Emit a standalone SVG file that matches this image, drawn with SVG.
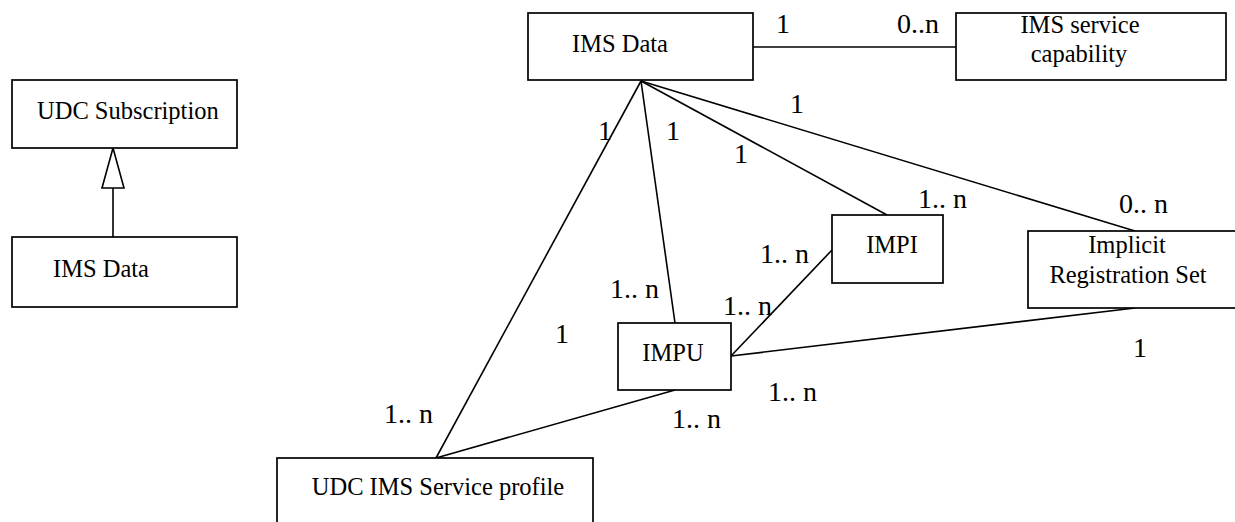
<svg xmlns="http://www.w3.org/2000/svg" width="1235" height="522" viewBox="0 0 1235 522">
<defs>
<style>
.box{fill:#fff;stroke:#000;stroke-width:1.7}
.ln{fill:none;stroke:#000;stroke-width:1.6}
.t{font-family:'Liberation Serif','Times New Roman','DejaVu Serif',serif;font-size:24.5px;fill:#000}
.m{font-family:'Liberation Serif','Times New Roman','DejaVu Serif',serif;font-size:28px;fill:#000}
</style>
</defs>
<rect width="1235" height="522" fill="#fff"/>
<g id="connectors">
<line class="ln" x1="113" y1="237" x2="113" y2="188"/>
<path d="M113,148 L124,188 L102,188 Z" fill="#fff" stroke="#000" stroke-width="1.6"/>
<line class="ln" x1="753" y1="47" x2="956" y2="47"/>
<line class="ln" x1="641" y1="81" x2="436" y2="458"/>
<line class="ln" x1="641" y1="81" x2="675" y2="323"/>
<line class="ln" x1="641" y1="81" x2="887" y2="215"/>
<line class="ln" x1="641" y1="81" x2="1135" y2="231"/>
<line class="ln" x1="731" y1="356" x2="832" y2="250"/>
<line class="ln" x1="731" y1="356" x2="1135" y2="308"/>
<line class="ln" x1="675" y1="390" x2="436" y2="458"/>
</g>
<g id="udc-subscription">
<rect class="box" x="12" y="80" width="225" height="68"/>
<text class="t" x="37" y="119" font-family="Liberation Serif, serif">UDC Subscription</text>
</g>
<g id="ims-data-left">
<rect class="box" x="12" y="237" width="225" height="70"/>
<text class="t" x="53" y="277">IMS Data</text>
</g>
<g id="ims-data">
<rect class="box" x="528" y="13" width="225" height="67"/>
<text class="t" x="572" y="52">IMS Data</text>
</g>
<g id="ims-service-capability">
<rect class="box" x="956" y="13" width="270" height="67"/>
<text class="t" x="1080" y="33" text-anchor="middle">IMS service</text>
<text class="t" x="1079" y="62" text-anchor="middle">capability</text>
</g>
<g id="impi">
<rect class="box" x="832" y="215" width="111" height="68"/>
<text class="t" x="892" y="253" text-anchor="middle">IMPI</text>
</g>
<g id="implicit-registration-set">
<rect class="box" x="1028" y="231" width="215" height="77"/>
<text class="t" x="1127" y="253" text-anchor="middle">Implicit</text>
<text class="t" x="1128" y="283" text-anchor="middle">Registration Set</text>
</g>
<g id="impu">
<rect class="box" x="618" y="323" width="113" height="67"/>
<text class="t" x="673" y="361" text-anchor="middle">IMPU</text>
</g>
<g id="udc-ims-service-profile">
<rect class="box" x="277" y="458" width="316" height="80"/>
<text class="t" x="438" y="495" text-anchor="middle">UDC IMS Service profile</text>
</g>
<g id="labels">
<text class="m" x="776" y="33">1</text>
<text class="m" x="897" y="33">0..n</text>
<text class="m" x="790" y="113">1</text>
<text class="m" x="598" y="140">1</text>
<text class="m" x="666" y="140">1</text>
<text class="m" x="734" y="163">1</text>
<text class="m" x="918" y="208">1.. n</text>
<text class="m" x="1119" y="213">0.. n</text>
<text class="m" x="760" y="263">1.. n</text>
<text class="m" x="610" y="298">1.. n</text>
<text class="m" x="723" y="315">1.. n</text>
<text class="m" x="555" y="343">1</text>
<text class="m" x="1133" y="357">1</text>
<text class="m" x="768" y="401">1.. n</text>
<text class="m" x="384" y="423">1.. n</text>
<text class="m" x="672" y="428">1.. n</text>
</g>
</svg>
